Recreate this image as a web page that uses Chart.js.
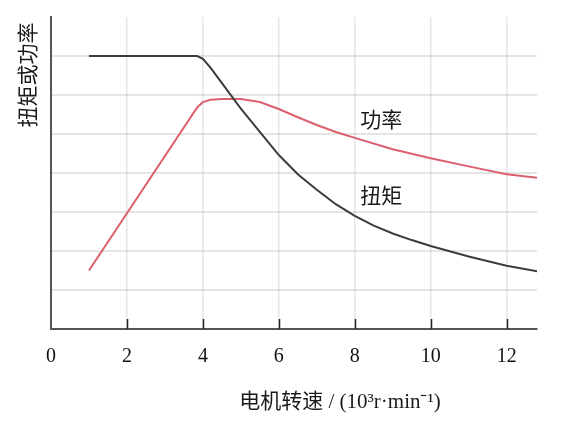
<!DOCTYPE html>
<html>
<head>
<meta charset="utf-8">
<script src="https://cdn.jsdelivr.net/npm/chart.js@4/dist/chart.umd.min.js"></script>
<style>
  html, body { margin: 0; padding: 0; background: #fff; }
  #wrap { width: 575px; height: 426px; }
</style>
</head>
<body>
<div id="wrap"><canvas id="c"></canvas></div>
<script>
// speed in 10^3 r/min
const torqueX = [1, 3.85, 4.0, 4.2, 5, 6, 6.5, 7, 7.5, 8, 8.5, 9, 9.5, 10, 11, 12, 12.85];
const torqueY = [7, 7, 6.93, 6.7, 5.65, 4.46, 3.97, 3.57, 3.2, 2.9, 2.65, 2.45, 2.28, 2.13, 1.86, 1.62, 1.47];

const powerX = [1, 3.85, 4.0, 4.2, 4.5, 5, 5.5, 6, 6.5, 7, 7.5, 8, 9, 10, 11, 12, 12.85];
const powerY = [1.5, 5.68, 5.82, 5.88, 5.9, 5.9, 5.82, 5.64, 5.43, 5.23, 5.05, 4.9, 4.61, 4.38, 4.17, 3.97, 3.87];

const xTicks = [0, 2, 4, 6, 8, 10, 12];
const yGridValues = [1, 2, 3, 4, 5, 6, 7];

const labelTorque = { text: '扭矩', x: 8.7, y: 3.38 };
const labelPower = { text: '功率', x: 8.7, y: 5.31 };

const yTitle = '扭矩或功率';
const xTitle = '电机转速 / (10³r·min⁻¹)';

const serif = "'Liberation Serif', 'Noto Sans CJK SC', serif";

function pts(xs, ys) {
  return xs.map((x, i) => ({ x: x, y: ys[i] }));
}

const extras = {
  id: 'extras',
  afterDraw(chart) {
    const ctx = chart.ctx;
    const xs = chart.scales.x;
    const ys = chart.scales.y;
    const area = chart.chartArea;
    ctx.save();
    // inward tick marks on the x axis
    ctx.strokeStyle = '#222';
    ctx.lineWidth = 1.5;
    xTicks.forEach(v => {
      if (v === 0) return;
      const px = Math.round(xs.getPixelForValue(v)) + 0.5;
      ctx.beginPath();
      ctx.moveTo(px, area.bottom);
      ctx.lineTo(px, area.bottom - 10);
      ctx.stroke();
    });
    // curve labels
    ctx.fillStyle = '#1a1a1a';
    ctx.font = '21px ' + serif;
    ctx.textAlign = 'center';
    ctx.textBaseline = 'middle';
    [labelTorque, labelPower].forEach(l => {
      ctx.fillText(l.text, xs.getPixelForValue(l.x), ys.getPixelForValue(l.y));
    });
    // axis titles
    ctx.fillText(xTitle, 340, 402);
    ctx.translate(29, 75);
    ctx.rotate(-Math.PI / 2);
    ctx.fillText(yTitle, 0, 0);
    ctx.restore();
  }
};

new Chart(document.getElementById('c'), {
  type: 'line',
  data: {
    datasets: [
      {
        label: '扭矩',
        data: pts(torqueX, torqueY),
        borderColor: '#3c3c3c',
        borderWidth: 2,
        pointRadius: 0,
        tension: 0,
        fill: false
      },
      {
        label: '功率',
        data: pts(powerX, powerY),
        borderColor: '#dc5f6e',
        borderWidth: 2,
        pointRadius: 0,
        tension: 0,
        fill: false
      }
    ]
  },
  options: {
    responsive: true,
    maintainAspectRatio: false,
    animation: false,
    layout: { padding: { left: 51, top: 17, right: 38, bottom: 41 } },
    plugins: {
      legend: { display: false },
      tooltip: { enabled: false }
    },
    scales: {
      x: {
        type: 'linear',
        min: 0,
        max: 12.8,
        border: { display: true, color: '#555', width: 2 },
        grid: {
          drawTicks: false,
          color: ctx => (ctx.tick && xTicks.includes(ctx.tick.value) && ctx.tick.value !== 0) ? 'rgba(0,0,0,0.1)' : 'rgba(0,0,0,0)',
          lineWidth: 1.5
        },
        afterBuildTicks: axis => { axis.ticks = xTicks.map(v => ({ value: v })); },
        ticks: {
          padding: 16,
          color: '#111',
          font: { family: serif, size: 20 }
        }
      },
      y: {
        type: 'linear',
        min: 0,
        max: 8,
        border: { display: true, color: '#555', width: 2 },
        grid: {
          drawTicks: false,
          color: ctx => (ctx.tick && yGridValues.includes(ctx.tick.value)) ? 'rgba(0,0,0,0.1)' : 'rgba(0,0,0,0)',
          lineWidth: 2
        },
        afterBuildTicks: axis => { axis.ticks = [0].concat(yGridValues, [8]).map(v => ({ value: v })); },
        ticks: { display: false }
      }
    }
  },
  plugins: [extras]
});
</script>
</body>
</html>
